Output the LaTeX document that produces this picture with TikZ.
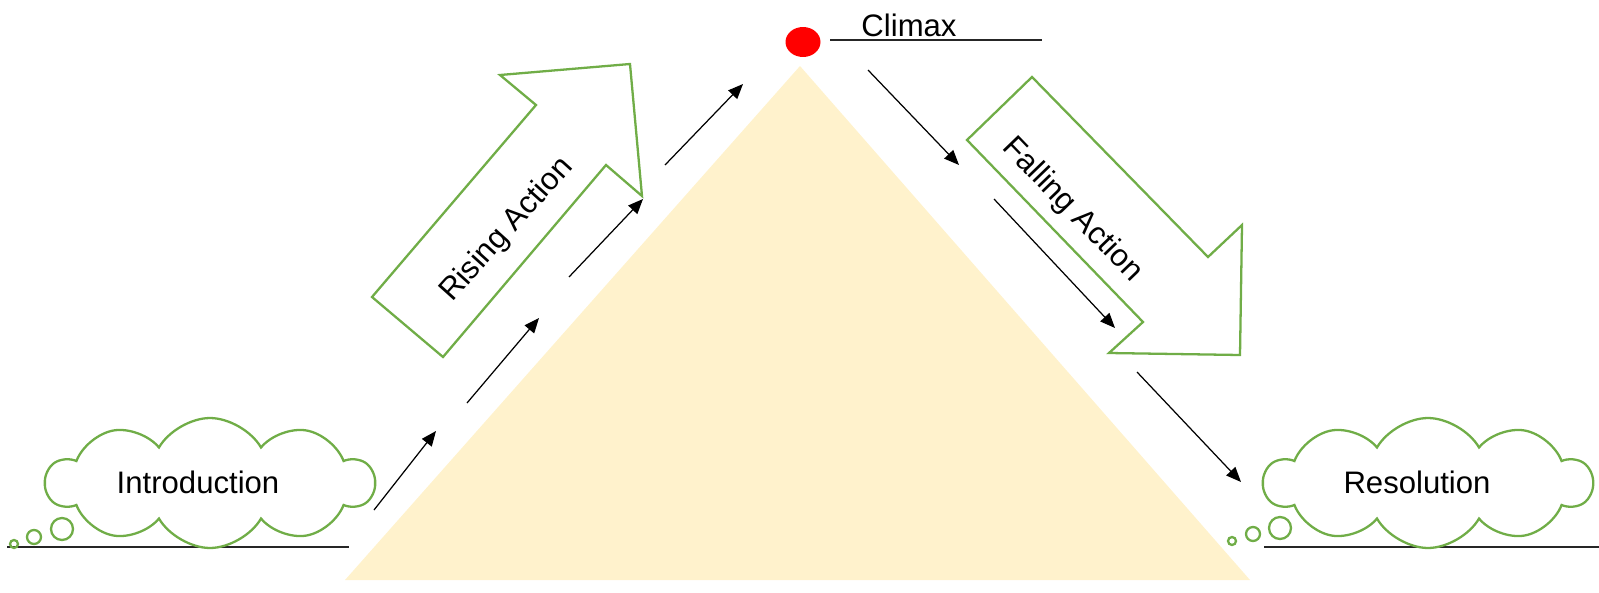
\documentclass[tikz,border=0pt]{standalone}
\usepackage{fontspec}
\setmainfont{Liberation Sans}
\usepackage{tikz}
\usetikzlibrary{shapes,arrows.meta,positioning}

\definecolor{leafgreen}{HTML}{70AD47}
\definecolor{sand}{HTML}{FFF2CC}

\begin{document}
\begin{tikzpicture}[
	%	style def
    x=0.02cm, y=-0.02cm,
    story line/.style={line width=0.7pt, -{Triangle[length=8.5pt,width=7pt]}},
    ground line/.style={line width=0.8pt, black!85},
    green line/.style={draw=leafgreen, line width=1.3pt},
    thought/.style={green line, fill=white, shape=cloud, cloud puffs=10, cloud puff arc=120,
        cloud ignores aspect, minimum width=6.55cm, minimum height=2.6cm, inner sep=0pt},
    every node/.style={color=black, font=\fontsize{17.7}{21}\selectfont}
    ]
    \useasboundingbox (0,0) rectangle (1599,592);

	% the mountain
	\fill[sand] (345,580) coordinate (foot L) -- (800,66) coordinate (apex) -- (1250,580) coordinate (foot R) -- cycle;

	% rising block arrow
	\draw[green line, fill=white] (372,297) -- (536,105) -- (500,75) -- (630,64) -- (642,196) -- (606,165) -- (443,357) -- cycle;
	\node[rotate=48] (rising) at (507,230) {Rising Action};

	% falling block arrow
	\draw[green line, fill=white] (967,140) -- (1032,77) -- (1208,257) -- (1242,225) -- (1240,355) -- (1109,353) -- (1143,322) -- cycle;
	\node[rotate=-46] (falling) at (1072,210) {Falling Action};

	% small arrows up the left side
	\draw[story line] (374,510) coordinate (r1) -- (436,431) coordinate (r2);
	\draw[story line] (467,403) coordinate (r3) -- (539,318) coordinate (r4);
	\draw[story line] (569,277) coordinate (r5) -- (643,199) coordinate (r6);
	\draw[story line] (665,165) coordinate (r7) -- (743,84) coordinate (r8);

	% small arrows down the right side
	\draw[story line] (868,70) coordinate (f1) -- (959,165) coordinate (f2);
	\draw[story line] (994,199) coordinate (f3) -- (1115,328) coordinate (f4);
	\draw[story line] (1137,372) coordinate (f5) -- (1241,482) coordinate (f6);

	% climax point
	\node[ellipse, fill=red, minimum width=0.7cm, minimum height=0.6cm, inner sep=0pt] (peak) at (803,42) {};
	\node[anchor=base] (climax) at (909,36) {Climax};
	\draw[ground line] (830,40) coordinate (c1) -- (1042,40) coordinate (c2);

	% introduction cloud
	\draw[ground line] (7,547) coordinate (g1) -- (349,547) coordinate (g2);
	\node[thought] (intro) at (210,483) {};
	\node (intro text) at (198,482) {Introduction};
	\draw[green line] (14,544) circle (0.08cm) (34,537) circle (0.14cm) (62,529) circle (0.22cm);

	% resolution cloud
	\draw[ground line] (1264,547) coordinate (g3) -- (1599,547) coordinate (g4);
	\node[thought] (resol) at (1428,483) {};
	\node (resol text) at (1417,482) {Resolution};
	\draw[green line] (1232,541) circle (0.08cm) (1253,534) circle (0.14cm) (1280,528) circle (0.22cm);

\end{tikzpicture}
\end{document}
